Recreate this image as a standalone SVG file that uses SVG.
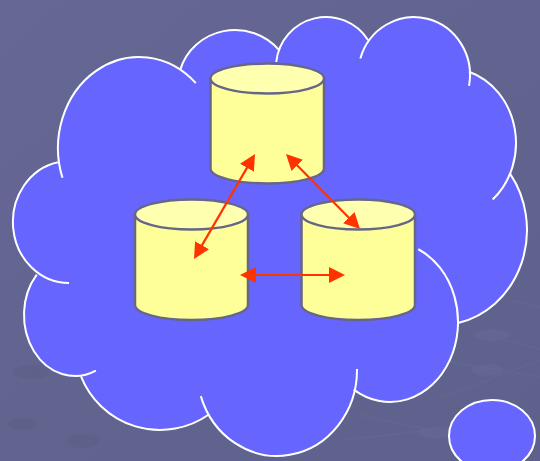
<svg xmlns="http://www.w3.org/2000/svg" width="540" height="461" viewBox="0 0 540 461">
  <style>
    .lobe { fill: #6666ff; stroke: none; }
    .arc { fill: none; stroke: #ffffff; stroke-width: 2; stroke-linecap: butt; }
    .body { fill: #ffff99; stroke: #666688; stroke-width: 2.500; }
    .lid { fill: #ffffb0; stroke: #666688; stroke-width: 2.500; }
    .link { stroke: #ff3300; stroke-width: 2.200; fill: none; marker-start: url(#head); marker-end: url(#head); }
    .bar { stroke: #6f7299; stroke-width: 2; opacity: .22; fill: none; }
    .pit { fill: #55587f; opacity: .3; }
    .bump { fill: #6d7098; opacity: .35; }
  </style>
  <defs>
    <linearGradient id="bg" x1="0" y1="0" x2="1" y2="1">
      <stop offset="0" stop-color="#666794"/>
      <stop offset="1" stop-color="#5e618c"/>
    </linearGradient>
    <marker id="head" markerUnits="userSpaceOnUse" markerWidth="16" markerHeight="16" viewBox="0 0 16 16" refX="8" refY="8" orient="auto-start-reverse">
      <path d="M0 0 L16 8 L0 16 Z" fill="#ff3300"/>
    </marker>
  </defs>
  <rect width="540" height="461" fill="url(#bg)"/>
  <g id="background-texture">
    <ellipse class="pit" cx="31" cy="372" rx="18" ry="7"/>
    <ellipse class="pit" cx="22" cy="424" rx="15" ry="6"/>
    <ellipse class="pit" cx="83" cy="441" rx="16" ry="7"/>
    <ellipse class="bump" cx="492" cy="335" rx="18" ry="6"/>
    <ellipse class="bump" cx="487" cy="370" rx="16" ry="6"/>
    <ellipse class="bump" cx="435" cy="433" rx="16" ry="6"/>
    <path class="bar" d="M510 300 L540 307 M505 340 L540 349 M450 362 L540 377 M440 398 L540 360 M360 415 L430 430 M345 440 L430 430"/>
  </g>
  <g id="cloud">
    <ellipse class="lobe" cx="139" cy="148" rx="81" ry="91"/>
    <ellipse class="lobe" cx="235" cy="85" rx="57" ry="55"/>
    <ellipse class="lobe" cx="326" cy="67" rx="50" ry="50"/>
    <ellipse class="lobe" cx="414" cy="75" rx="56" ry="58"/>
    <ellipse class="lobe" cx="448" cy="143" rx="68" ry="75"/>
    <ellipse class="lobe" cx="440" cy="230" rx="87" ry="95"/>
    <ellipse class="lobe" cx="390" cy="322" rx="68" ry="80"/>
    <ellipse class="lobe" cx="277" cy="370" rx="80" ry="86"/>
    <ellipse class="lobe" cx="160" cy="345" rx="85" ry="85"/>
    <ellipse class="lobe" cx="75" cy="315" rx="51" ry="61"/>
    <ellipse class="lobe" cx="69" cy="222" rx="56" ry="61"/>
    <polygon class="lobe" points="139,148 235,85 326,67 414,75 448,143 440,230 390,322 277,370 160,345 75,315 69,222"/>
    <path class="arc" d="M62.470 177.820 A81 91 0 0 1 195.790 83.110"/>
    <path class="arc" d="M180.150 70.040 A57 55 0 0 1 279.380 50.480"/>
    <path class="arc" d="M276.250 62.020 A50 50 0 0 1 368.200 40.200"/>
    <path class="arc" d="M360.350 58.410 A56 58 0 0 1 469.020 85.810"/>
    <path class="arc" d="M469.090 71.700 A68 75 0 0 1 492.650 199.560"/>
    <path class="arc" d="M510.170 173.860 A87 95 0 0 1 458.940 322.720"/>
    <path class="arc" d="M418.290 249.250 A68 80 0 1 1 353.720 389.660"/>
    <path class="arc" d="M357 369 A80 86 0 0 1 200.800 396.100"/>
    <path class="arc" d="M208.500 414.800 A85 85 0 0 1 81 376.400"/>
    <path class="arc" d="M95.870 370.660 A51 61 0 0 1 36.740 274.670"/>
    <path class="arc" d="M69 283 A56 61 0 0 1 57.860 162.200"/>
  </g>
  <g id="thought-bubble">
    <ellipse cx="492" cy="436" rx="43" ry="36" fill="#6666ff" stroke="#ffffff" stroke-width="2"/>
  </g>
  <g id="cylinder-top">
    <path class="body" d="M210.500 78.500 V168.500 A56.750 15 0 0 0 324 168.500 V78.500 Z"/>
    <ellipse class="lid" cx="267.250" cy="78.500" rx="56.750" ry="15"/>
  </g>
  <g id="cylinder-left">
    <path class="body" d="M135 214.500 V305 A56.500 15 0 0 0 248 305 V214.500 Z"/>
    <ellipse class="lid" cx="191.500" cy="214.500" rx="56.500" ry="15"/>
  </g>
  <g id="cylinder-right">
    <path class="body" d="M301.500 214.500 V305 A56.750 15 0 0 0 415 305 V214.500 Z"/>
    <ellipse class="lid" cx="358.250" cy="214.500" rx="56.750" ry="15"/>
  </g>
  <g id="connectors">
    <path class="link" d="M251 160.900 L198 252.100"/>
    <path class="link" d="M291.600 159.700 L354.400 223.300"/>
    <path class="link" d="M248 275 L337 275"/>
  </g>
</svg>
